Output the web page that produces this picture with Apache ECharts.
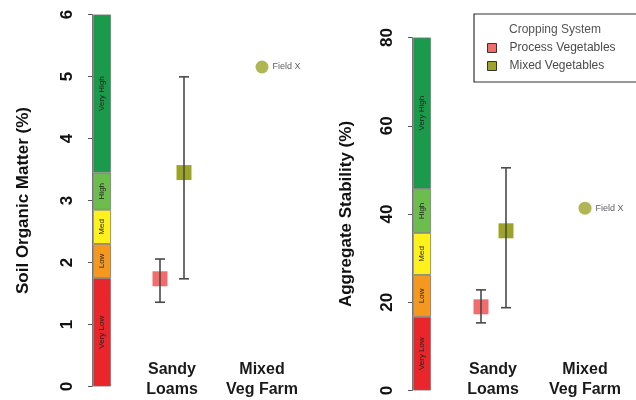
<!DOCTYPE html>
<html>
<head>
<meta charset="utf-8">
<script src="https://cdn.jsdelivr.net/npm/echarts@6/dist/echarts.min.js"></script>
<style>
  html, body { margin: 0; padding: 0; background: #fff; }
  #main { width: 636px; height: 400px; }
</style>
</head>
<body>
<div id="main"></div>
<script>
// categories on the x axis
const categories = ['Sandy\nLoams', 'Mixed\nVeg Farm'];
// rating bands (bottom to top) and the height of each band
const bandNames = ['Very Low', 'Low', 'Med', 'High', 'Very High'];
const somBandHeights = [1.75, 0.55, 0.55, 0.6, 2.55];   // soil organic matter, sums to 6
const aggBandHeights = [16.7, 9.5, 9.5, 10, 34.3];      // aggregate stability, sums to 80
// [category index, mean, low, high]
const somProcess = [[0, 1.72, 1.34, 2.04]];
const somMixed = [[0, 3.44, 1.72, 4.99]];
const somFieldX = [[1, 5.15]];
const aggProcess = [[0, 18.0, 14.3, 21.9]];
const aggMixed = [[0, 35.5, 17.8, 50.0]];
const aggFieldX = [[1, 40.7]];
const somTicks = [0, 6, 1];
const aggTicks = [0, 80, 20];

const bandColors = ['#e8262b', '#f5981f', '#fff21c', '#6cbd4d', '#1b9a4b'];
const processColor = '#f26c6c';
const mixedColor = '#9ca428';
const font = 'Liberation Sans, Arial, sans-serif';

let chart = echarts.init(document.getElementById('main'));

// draws the mean square with its error bar, shifted sideways by offset px
function errorBar(offset) {
    return function (params, api) {
        let c = api.value(0);
        let x = api.coord([c, api.value(1)])[0] + offset;
        let yMean = api.coord([c, api.value(1)])[1];
        let yLow = api.coord([c, api.value(2)])[1];
        let yHigh = api.coord([c, api.value(3)])[1];
        let s = 15, cap = 5;
        let line = { stroke: '#4a4a4a', lineWidth: 1.6 };
        return {
            type: 'group',
            children: [
                { type: 'rect', shape: { x: x - s / 2, y: yMean - s / 2, width: s, height: s }, style: { fill: api.visual('color') } },
                { type: 'line', shape: { x1: x, y1: yLow, x2: x, y2: yHigh }, style: line },
                { type: 'line', shape: { x1: x - cap, y1: yLow, x2: x + cap, y2: yLow }, style: line },
                { type: 'line', shape: { x1: x - cap, y1: yHigh, x2: x + cap, y2: yHigh }, style: line }
            ]
        };
    };
}

function bandSeries(heights, axis, stack) {
    return heights.map(function (h, i) {
        return {
            type: 'bar',
            name: bandNames[i],
            xAxisIndex: axis, yAxisIndex: axis,
            stack: stack,
            barWidth: 18,
            data: [h],
            itemStyle: { color: bandColors[i], borderColor: '#7a7a7a', borderWidth: 0.8 },
            label: {
                show: true, position: 'inside', rotate: 90,
                formatter: bandNames[i],
                fontSize: 8, fontFamily: font, color: '#222'
            },
            emphasis: { disabled: true }
        };
    });
}

function valueAxis(grid, ticks, name, gap) {
    return {
        type: 'value', gridIndex: grid,
        min: ticks[0], max: ticks[1], interval: ticks[2],
        name: name, nameLocation: 'middle', nameRotate: 90, nameGap: gap,
        nameTextStyle: { fontSize: 17, fontWeight: 'bold', fontFamily: font, color: '#111' },
        axisLine: { show: true, lineStyle: { color: '#777' } },
        axisTick: { show: true, length: 4, lineStyle: { color: '#555' } },
        axisLabel: { rotate: 90, margin: 16, fontSize: 17, fontWeight: 'bold', fontFamily: font, color: '#111' },
        splitLine: { show: false }
    };
}

function hiddenY(grid, ticks) {
    return { type: 'value', gridIndex: grid, min: ticks[0], max: ticks[1], show: false, splitLine: { show: false } };
}

function catAxis(grid) {
    return {
        type: 'category', gridIndex: grid, data: categories,
        axisLine: { show: false }, axisTick: { show: false },
        axisLabel: { interval: 0, margin: -25, fontSize: 16, fontWeight: 'bold', fontFamily: font, color: '#1a1a1a', lineHeight: 20 }
    };
}

function fieldX(data, axis) {
    return {
        type: 'scatter', name: 'Field X',
        xAxisIndex: axis, yAxisIndex: axis,
        data: data, symbol: 'circle', symbolSize: 13,
        itemStyle: { color: mixedColor },
        label: { show: true, position: 'right', distance: 4, formatter: 'Field X', fontSize: 9, fontFamily: font, color: '#333' }
    };
}

const option = {
    animation: false,
    title: {
        text: 'Cropping System', left: 504, top: 19,
        textStyle: { fontSize: 12, fontWeight: 'normal', fontFamily: font, color: '#555' }
    },
    legend: {
        data: ['Process Vegetables', 'Mixed Vegetables'],
        orient: 'vertical', left: 474, top: 14,
        padding: [28, 40, 10, 13],
        borderColor: '#333', borderWidth: 1.2,
        icon: 'rect', itemWidth: 9, itemHeight: 9, itemGap: 6,
        itemStyle: { borderColor: '#333', borderWidth: 1 },
        textStyle: { fontSize: 12, fontFamily: font, color: '#4a4a4a', padding: [0, 0, 0, 8] }
    },
    grid: [
        { left: 92, width: 20, top: 14.5, bottom: 13.5 },
        { left: 127, width: 180, top: 14.5, bottom: 13.5 },
        { left: 412, width: 20, top: 37.5, bottom: 9.5 },
        { left: 447, width: 184, top: 37.5, bottom: 9.5 }
    ],
    xAxis: [
        { type: 'category', gridIndex: 0, data: [''], show: false },
        catAxis(1),
        { type: 'category', gridIndex: 2, data: [''], show: false },
        catAxis(3)
    ],
    yAxis: [
        valueAxis(0, somTicks, 'Soil Organic Matter (%)', 60),
        hiddenY(1, somTicks),
        valueAxis(2, aggTicks, 'Aggregate Stability (%)', 57),
        hiddenY(3, aggTicks)
    ],
    series: [].concat(
        bandSeries(somBandHeights, 0, 'som'),
        bandSeries(aggBandHeights, 2, 'agg'),
        [
            { type: 'custom', name: 'Process Vegetables', xAxisIndex: 1, yAxisIndex: 1, itemStyle: { color: processColor }, renderItem: errorBar(-12), encode: { x: 0, y: 1 }, data: somProcess },
            { type: 'custom', name: 'Mixed Vegetables', xAxisIndex: 1, yAxisIndex: 1, itemStyle: { color: mixedColor }, renderItem: errorBar(12), encode: { x: 0, y: 1 }, data: somMixed },
            fieldX(somFieldX, 1),
            { type: 'custom', name: 'Process Vegetables', xAxisIndex: 3, yAxisIndex: 3, itemStyle: { color: processColor }, renderItem: errorBar(-12), encode: { x: 0, y: 1 }, data: aggProcess },
            { type: 'custom', name: 'Mixed Vegetables', xAxisIndex: 3, yAxisIndex: 3, itemStyle: { color: mixedColor }, renderItem: errorBar(13), encode: { x: 0, y: 1 }, data: aggMixed },
            fieldX(aggFieldX, 3)
        ]
    )
};

chart.setOption(option);
</script>
</body>
</html>
